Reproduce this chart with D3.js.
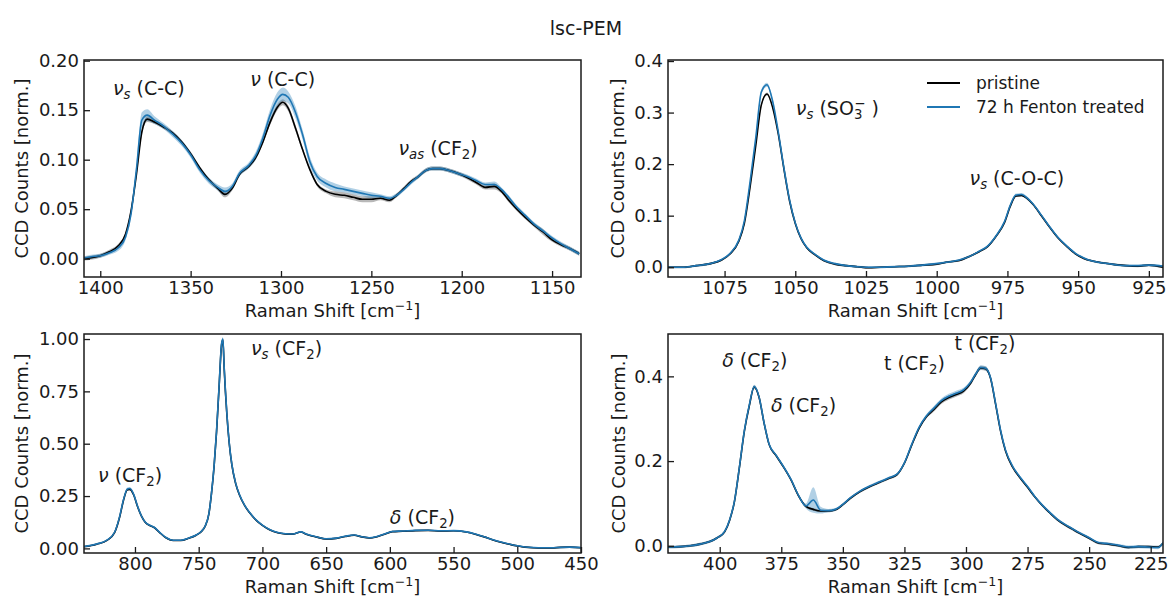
<!DOCTYPE html>
<html>
<head>
<meta charset="utf-8">
<script src="https://cdn.jsdelivr.net/npm/d3@7"></script>
<style>
  body { margin: 0; background: #fff; }
  svg text { font-family: "DejaVu Sans", sans-serif; fill: #1a1a1a; }
</style>
</head>
<body>
<div id="chart"></div>
<script>
// ---- panel 1 : 1410 - 1135 cm-1
const p1X = [1410,1405,1400,1395,1390,1386,1383,1380,1377,1374,
  1370,1365,1360,1355,1350,1345,1340,1335,1331,1327,
  1323,1318,1314,1310,1306,1302,1299,1296,1292,1288,
  1284,1280,1275,1270,1265,1260,1255,1250,1245,1240,
  1236,1232,1228,1224,1220,1216,1212,1207,1202,1197,
  1192,1187,1182,1178,1174,1170,1165,1160,1155,1150,
  1145,1140,1135];
const p1Pristine = [0.000,0.001,0.003,0.007,0.013,0.025,0.048,0.085,0.128,0.141,
  0.138,0.133,0.127,0.118,0.106,0.092,0.080,0.071,0.065,0.071,
  0.085,0.093,0.102,0.118,0.138,0.153,0.158,0.152,0.132,0.110,
  0.090,0.075,0.068,0.065,0.064,0.062,0.060,0.060,0.061,0.059,
  0.064,0.071,0.078,0.083,0.089,0.091,0.091,0.089,0.086,0.082,
  0.077,0.072,0.073,0.068,0.059,0.051,0.042,0.034,0.027,0.019,
  0.014,0.010,0.005];
const p1Fenton = [0.000,0.002,0.003,0.006,0.011,0.022,0.045,0.090,0.140,0.145,
  0.140,0.134,0.126,0.117,0.105,0.090,0.079,0.072,0.068,0.073,
  0.086,0.094,0.104,0.122,0.145,0.161,0.166,0.163,0.148,0.125,
  0.098,0.083,0.076,0.072,0.070,0.068,0.066,0.064,0.063,0.061,
  0.064,0.070,0.077,0.083,0.089,0.091,0.091,0.089,0.086,0.083,
  0.079,0.075,0.075,0.070,0.062,0.053,0.044,0.035,0.028,0.021,
  0.015,0.010,0.005];
const p1PristineSd = [0.002,0.002,0.002,0.002,0.002,0.002,0.003,0.003,0.003,0.003,
  0.002,0.002,0.002,0.002,0.002,0.002,0.002,0.002,0.003,0.002,
  0.002,0.002,0.002,0.002,0.003,0.003,0.003,0.003,0.003,0.002,
  0.002,0.002,0.002,0.003,0.003,0.003,0.003,0.003,0.002,0.002,
  0.002,0.002,0.002,0.002,0.002,0.002,0.002,0.002,0.002,0.002,
  0.002,0.002,0.003,0.002,0.002,0.002,0.002,0.002,0.003,0.002,
  0.002,0.002,0.002];
const p1FentonSd = [0.002,0.002,0.002,0.002,0.003,0.003,0.004,0.006,0.008,0.006,
  0.004,0.003,0.003,0.003,0.003,0.003,0.003,0.003,0.004,0.003,
  0.003,0.003,0.004,0.005,0.006,0.007,0.007,0.006,0.006,0.005,
  0.005,0.004,0.004,0.004,0.003,0.003,0.003,0.003,0.002,0.002,
  0.002,0.002,0.002,0.002,0.002,0.002,0.002,0.002,0.002,0.002,
  0.002,0.002,0.003,0.002,0.002,0.002,0.002,0.002,0.002,0.002,
  0.002,0.002,0.002];

// ---- panel 2 : 1095 - 920 cm-1
const p2X = [1095,1090,1085,1080,1076,1073,1070,1068,1066,1064,
  1062,1060,1058,1056,1054,1052,1050,1048,1046,1043,
  1040,1036,1032,1028,1024,1020,1015,1010,1005,1000,
  996,992,988,985,982,979,976,974,972,970,
  968,966,963,960,957,954,951,948,945,941,
  937,933,929,925,920];
const p2Pristine = [0.000,0.000,0.003,0.007,0.014,0.026,0.050,0.085,0.155,0.235,
  0.315,0.336,0.310,0.258,0.190,0.128,0.085,0.056,0.038,0.024,
  0.013,0.006,0.003,0.001,-0.001,0.000,0.001,0.002,0.004,0.006,
  0.010,0.013,0.022,0.030,0.040,0.060,0.087,0.118,0.138,0.139,
  0.133,0.122,0.100,0.077,0.056,0.040,0.026,0.017,0.012,0.008,
  0.005,0.003,0.002,0.004,0.000];
const p2Fenton = [0.000,0.000,0.003,0.007,0.015,0.027,0.052,0.090,0.165,0.250,
  0.340,0.354,0.322,0.262,0.192,0.130,0.086,0.057,0.039,0.025,
  0.014,0.007,0.003,0.001,0.000,0.000,0.001,0.002,0.004,0.007,
  0.010,0.014,0.022,0.031,0.041,0.061,0.089,0.120,0.140,0.141,
  0.134,0.123,0.101,0.078,0.057,0.041,0.027,0.018,0.012,0.008,
  0.005,0.003,0.003,0.004,0.002];
const p2PristineSd = [0.002,0.002,0.002,0.002,0.002,0.002,0.002,0.003,0.003,0.003,
  0.003,0.003,0.003,0.003,0.003,0.002,0.002,0.002,0.002,0.002,
  0.002,0.002,0.002,0.002,0.002,0.002,0.002,0.002,0.002,0.002,
  0.002,0.002,0.002,0.002,0.002,0.002,0.002,0.002,0.002,0.002,
  0.002,0.002,0.002,0.002,0.002,0.002,0.002,0.002,0.002,0.002,
  0.002,0.002,0.002,0.002,0.002];
const p2FentonSd = [0.002,0.002,0.002,0.002,0.002,0.002,0.002,0.003,0.004,0.004,
  0.005,0.004,0.004,0.003,0.003,0.003,0.002,0.002,0.002,0.002,
  0.002,0.002,0.002,0.002,0.002,0.002,0.002,0.002,0.002,0.002,
  0.002,0.002,0.002,0.002,0.002,0.002,0.002,0.003,0.003,0.003,
  0.003,0.002,0.002,0.002,0.002,0.002,0.002,0.002,0.002,0.002,
  0.002,0.002,0.002,0.002,0.002];

// ---- panel 3 : 840 - 450 cm-1
const p3X = [840,830,822,816,812,809,806,804,801,798,
  795,792,788,785,781,776,770,764,758,752,
  748,745,742,740,738,736,734,732,731,730,
  728,726,724,721,718,714,710,705,700,694,
  688,682,676,670,665,658,650,642,635,628,
  622,616,610,604,598,590,580,570,560,550,
  540,533,526,519,512,505,500,494,487,480,
  473,466,459,450];
const p3Pristine = [0.008,0.020,0.038,0.075,0.150,0.230,0.280,0.282,0.255,0.200,
  0.155,0.125,0.108,0.100,0.078,0.052,0.038,0.038,0.048,0.063,
  0.080,0.105,0.165,0.260,0.385,0.555,0.770,0.975,0.995,0.860,
  0.650,0.500,0.400,0.310,0.255,0.205,0.170,0.135,0.110,0.088,
  0.075,0.069,0.068,0.078,0.066,0.055,0.045,0.048,0.057,0.063,
  0.055,0.050,0.056,0.068,0.080,0.082,0.085,0.086,0.083,0.084,
  0.078,0.068,0.055,0.040,0.028,0.018,0.012,0.006,0.003,0.002,
  0.002,0.005,0.006,0.003];
const p3Fenton = [0.009,0.021,0.039,0.077,0.153,0.233,0.284,0.286,0.258,0.202,
  0.156,0.126,0.109,0.101,0.079,0.053,0.039,0.039,0.049,0.064,
  0.081,0.106,0.166,0.262,0.388,0.560,0.775,0.980,1.000,0.865,
  0.655,0.503,0.402,0.312,0.257,0.207,0.171,0.136,0.111,0.089,
  0.076,0.070,0.069,0.079,0.067,0.056,0.046,0.049,0.058,0.064,
  0.056,0.051,0.057,0.069,0.081,0.083,0.086,0.087,0.084,0.085,
  0.079,0.069,0.056,0.041,0.029,0.019,0.013,0.007,0.004,0.003,
  0.003,0.005,0.006,0.004];
const p3PristineSd = [0.003,0.003,0.003,0.003,0.004,0.004,0.005,0.005,0.004,0.004,
  0.003,0.003,0.003,0.003,0.003,0.003,0.003,0.003,0.003,0.003,
  0.003,0.003,0.004,0.004,0.005,0.006,0.007,0.008,0.008,0.007,
  0.006,0.005,0.004,0.004,0.003,0.003,0.003,0.003,0.003,0.003,
  0.003,0.003,0.003,0.003,0.003,0.003,0.003,0.003,0.003,0.003,
  0.003,0.003,0.003,0.003,0.003,0.003,0.003,0.003,0.003,0.003,
  0.003,0.003,0.003,0.003,0.003,0.003,0.003,0.003,0.003,0.003,
  0.003,0.003,0.003,0.003];
const p3FentonSd = [0.003,0.003,0.003,0.003,0.005,0.006,0.007,0.007,0.006,0.005,
  0.004,0.004,0.003,0.003,0.003,0.003,0.003,0.003,0.003,0.003,
  0.003,0.003,0.004,0.005,0.006,0.008,0.009,0.010,0.010,0.009,
  0.008,0.006,0.005,0.004,0.004,0.003,0.003,0.003,0.003,0.003,
  0.003,0.003,0.003,0.003,0.003,0.003,0.003,0.003,0.003,0.003,
  0.003,0.003,0.003,0.003,0.003,0.003,0.003,0.003,0.003,0.003,
  0.003,0.003,0.003,0.003,0.003,0.003,0.003,0.003,0.003,0.003,
  0.003,0.003,0.003,0.003];

// ---- panel 4 : 421 - 220 cm-1
const p4X = [421,416,412,408,404,401,398,396,394,392,
  390,388,386,384,382,380,377,374,371,368,
  365,362,359,356,353,350,347,343,339,335,
  331,328,325,322,319,316,313,310,307,304,
  301,298,296,294,292,290,288,286,284,281,
  278,275,272,269,266,263,260,257,254,250,
  246,242,238,234,230,226,222,220];
const p4Pristine = [-0.003,-0.002,0.000,0.004,0.010,0.019,0.033,0.060,0.105,0.185,
  0.270,0.330,0.375,0.350,0.290,0.240,0.212,0.185,0.155,0.118,
  0.093,0.086,0.082,0.082,0.085,0.097,0.112,0.128,0.140,0.150,
  0.160,0.168,0.195,0.238,0.278,0.305,0.322,0.340,0.350,0.357,
  0.365,0.385,0.405,0.420,0.418,0.395,0.335,0.272,0.225,0.185,
  0.160,0.138,0.115,0.095,0.078,0.062,0.050,0.040,0.030,0.018,
  0.006,0.004,0.000,-0.004,-0.002,-0.002,-0.003,0.006];
const p4Fenton = [-0.003,-0.002,0.000,0.004,0.010,0.019,0.034,0.061,0.106,0.186,
  0.272,0.332,0.376,0.351,0.291,0.241,0.213,0.186,0.156,0.119,
  0.094,0.108,0.084,0.083,0.086,0.098,0.113,0.129,0.141,0.151,
  0.161,0.169,0.196,0.240,0.280,0.307,0.325,0.343,0.353,0.360,
  0.368,0.387,0.406,0.421,0.419,0.396,0.337,0.274,0.227,0.187,
  0.162,0.140,0.116,0.096,0.079,0.063,0.051,0.041,0.031,0.019,
  0.007,0.005,0.001,-0.003,-0.002,-0.003,-0.004,0.007];
const p4PristineSd = [0.003,0.003,0.003,0.003,0.003,0.003,0.003,0.003,0.003,0.003,
  0.003,0.004,0.004,0.004,0.003,0.003,0.003,0.003,0.003,0.003,
  0.003,0.003,0.003,0.003,0.003,0.003,0.003,0.003,0.003,0.003,
  0.003,0.003,0.003,0.004,0.004,0.004,0.005,0.005,0.005,0.005,
  0.005,0.005,0.005,0.005,0.005,0.004,0.004,0.004,0.004,0.003,
  0.003,0.003,0.003,0.003,0.003,0.003,0.003,0.003,0.003,0.003,
  0.003,0.003,0.003,0.003,0.003,0.003,0.003,0.003];
const p4FentonSd = [0.003,0.003,0.003,0.003,0.003,0.003,0.003,0.003,0.003,0.003,
  0.003,0.004,0.004,0.004,0.003,0.003,0.003,0.003,0.003,0.004,
  0.006,0.030,0.008,0.004,0.003,0.003,0.003,0.003,0.003,0.003,
  0.003,0.003,0.003,0.004,0.004,0.004,0.005,0.005,0.006,0.006,
  0.005,0.005,0.005,0.005,0.005,0.004,0.004,0.004,0.004,0.003,
  0.003,0.003,0.003,0.003,0.003,0.003,0.003,0.003,0.003,0.003,
  0.003,0.003,0.003,0.004,0.004,0.004,0.004,0.003];

// annotations, anchored in data coordinates; part styles: i italic, s sub, S sup
const p1Notes = [
  {x: 1393, y: 0.165, parts: [['ν','i'],['s','is'],[' (C-C)','']]},
  {x: 1317, y: 0.174, parts: [['ν','i'],[' (C-C)','']]},
  {x: 1235, y: 0.105, parts: [['ν','i'],['as','is'],[' (CF',''],['2','s'],[')','']]}
];
const p2Notes = [
  {x: 1049.8, y: 0.295, parts: [['ν','i'],['s','is'],[' (SO',''],['3','s'],['−','S',-8],[' )','']]},
  {x: 988.4, y: 0.159, parts: [['ν','i'],['s','is'],[' (C-O-C)','']]}
];
const p3Notes = [
  {x: 829, y: 0.317, parts: [['ν','i'],[' (CF',''],['2','s'],[')','']]},
  {x: 709, y: 0.924, parts: [['ν','i'],['s','is'],[' (CF',''],['2','s'],[')','']]},
  {x: 600, y: 0.117, parts: [['δ','i'],[' (CF',''],['2','s'],[')','']]}
];
const p4Notes = [
  {x: 399, y: 0.422, parts: [['δ','i'],[' (CF',''],['2','s'],[')','']]},
  {x: 379.2, y: 0.316, parts: [['δ','i'],[' (CF',''],['2','s'],[')','']]},
  {x: 333.3, y: 0.415, parts: [['t',''],[' (CF',''],['2','s'],[')','']]},
  {x: 304.7, y: 0.462, parts: [['t',''],[' (CF',''],['2','s'],[')','']]}
];

const seriesNames = ['pristine', '72 h Fenton treated'];
const seriesColors = ['#000000', '#1f77b4'];

const W = 1172, H = 599;
const FS = 18;      // ticks and axis labels
const NOTE_FS = 19; // peak labels
const LEG_FS = 17;

const panels = [
  {id:1, x:p1X, ys:[p1Pristine,p1Fenton], sds:[p1PristineSd,p1FentonSd], box:[84,60,581,277],
   xDom:[1409,1134], yDom:[-0.0185,0.2007], xTicks:[1400,1350,1300,1250,1200,1150],
   yTicks:[0,0.05,0.1,0.15,0.2], yFmt:'.2f', notes:p1Notes, ylabX:22},
  {id:2, x:p2X, ys:[p2Pristine,p2Fenton], sds:[p2PristineSd,p2FentonSd], box:[668,60,1163,277],
   xDom:[1095,920], yDom:[-0.019,0.402], xTicks:[1075,1050,1025,1000,975,950,925],
   yTicks:[0,0.1,0.2,0.3,0.4], yFmt:'.1f', notes:p2Notes, ylabX:618, legend:true},
  {id:3, x:p3X, ys:[p3Pristine,p3Fenton], sds:[p3PristineSd,p3FentonSd], box:[84,334,581,553],
   xDom:[840,450], yDom:[-0.022,1.024], xTicks:[800,750,700,650,600,550,500,450],
   yTicks:[0,0.25,0.5,0.75,1], yFmt:'.2f', notes:p3Notes, ylabX:22},
  {id:4, x:p4X, ys:[p4Pristine,p4Fenton], sds:[p4PristineSd,p4FentonSd], box:[668,334,1163,553],
   xDom:[421,220], yDom:[-0.017,0.5], xTicks:[400,375,350,325,300,275,250,225],
   yTicks:[0,0.2,0.4], yFmt:'.1f', notes:p4Notes, ylabX:619}
];

const svg = d3.select('#chart').append('svg')
  .attr('width', W)
  .attr('height', H);

// text with italic / sub / superscript pieces
function richText(sel, parts, size){
  const t = sel.append('text').style('font-size', size + 'px');
  let shift = 0;
  parts.forEach(function(p){
    const st = p[1];
    const sub = st.indexOf('s') >= 0, sup = st.indexOf('S') >= 0;
    const target = sub ? 0.2 * size : sup ? -0.38 * size : 0;
    const ts = t.append('tspan')
      .attr('dy', target - shift)
      .style('font-style', st.indexOf('i') >= 0 ? 'italic' : 'normal')
      .text(p[0]);
    if(sub || sup) ts.style('font-size', (0.7 * size) + 'px');
    if(p[2]) ts.attr('dx', p[2]);
    shift = target;
  });
  return t;
}

svg.append('text')
  .attr('x', 586)
  .attr('y', 35)
  .attr('text-anchor', 'middle')
  .style('font-size', '19px')
  .text('lsc-PEM');

panels.forEach(function(p){
  const [x0, y0, x1, y1] = p.box;
  const x = d3.scaleLinear().domain(p.xDom).range([x0, x1]);
  const y = d3.scaleLinear().domain(p.yDom).range([y1, y0]);

  const g = svg.append('g').attr('class', 'panel');

  g.append('clipPath').attr('id', 'clip' + p.id)
    .append('rect')
    .attr('x', x0).attr('y', y0)
    .attr('width', x1 - x0).attr('height', y1 - y0);

  const plot = g.append('g').attr('clip-path', 'url(#clip' + p.id + ')');

  const idx = d3.range(p.x.length);
  p.ys.forEach(function(vals, k){
    const sd = p.sds[k];
    const area = d3.area()
      .x(i => x(p.x[i]))
      .y0(i => y(vals[i] - sd[i]))
      .y1(i => y(vals[i] + sd[i]))
      .curve(d3.curveMonotoneX);
    plot.append('path')
      .attr('d', area(idx))
      .attr('fill', seriesColors[k])
      .attr('fill-opacity', k === 0 ? 0.28 : 0.35)
      .attr('stroke', 'none');
  });
  p.ys.forEach(function(vals, k){
    const line = d3.line()
      .x(i => x(p.x[i]))
      .y(i => y(vals[i]))
      .curve(d3.curveMonotoneX);
    plot.append('path')
      .attr('d', line(idx))
      .attr('fill', 'none')
      .attr('stroke', seriesColors[k])
      .attr('stroke-width', 1.6)
      .attr('stroke-linejoin', 'round');
  });

  // axes, ticks pointing inward
  const gx = g.append('g')
    .attr('transform', `translate(0, ${y1})`)
    .call(d3.axisBottom(x).tickValues(p.xTicks).tickFormat(d3.format('d'))
      .tickSizeInner(-6).tickSizeOuter(0).tickPadding(4));
  const gy = g.append('g')
    .attr('transform', `translate(${x0}, 0)`)
    .call(d3.axisLeft(y).tickValues(p.yTicks).tickFormat(d3.format(p.yFmt))
      .tickSizeInner(-6).tickSizeOuter(0).tickPadding(5));
  [gx, gy].forEach(function(a){
    a.select('.domain').remove();
    a.attr('font-family', null).attr('font-size', null);
    a.selectAll('line').attr('stroke', '#1a1a1a').attr('stroke-width', 1.3);
    a.selectAll('text').style('font-size', FS + 'px').attr('fill', '#1a1a1a');
  });

  g.append('rect')
    .attr('x', x0).attr('y', y0)
    .attr('width', x1 - x0).attr('height', y1 - y0)
    .attr('fill', 'none')
    .attr('stroke', '#1a1a1a')
    .attr('stroke-width', 1.5);

  // axis labels
  richText(g, [['Raman Shift [cm',''],['−1','S'],[']','']], FS)
    .attr('x', (x0 + x1) / 2)
    .attr('y', y1 + 40)
    .attr('text-anchor', 'middle');

  g.append('text')
    .attr('transform', `translate(${p.ylabX}, ${(y0 + y1) / 2}) rotate(-90)`)
    .attr('text-anchor', 'middle')
    .attr('dy', '0.35em')
    .style('font-size', FS + 'px')
    .text('CCD Counts [norm.]');

  // peak annotations
  p.notes.forEach(function(n){
    richText(g, n.parts, NOTE_FS)
      .attr('x', x(n.x))
      .attr('y', y(n.y));
  });

  if(p.legend){
    const lg = g.append('g').attr('class', 'legend');
    seriesNames.forEach(function(name, k){
      const ly = 83 + k * 24;
      lg.append('line')
        .attr('x1', 927).attr('x2', 960)
        .attr('y1', ly).attr('y2', ly)
        .attr('stroke', seriesColors[k])
        .attr('stroke-width', 1.8);
      lg.append('text')
        .attr('x', 976)
        .attr('y', ly)
        .attr('dy', '0.35em')
        .style('font-size', LEG_FS + 'px')
        .text(name);
    });
  }
});
</script>
</body>
</html>
